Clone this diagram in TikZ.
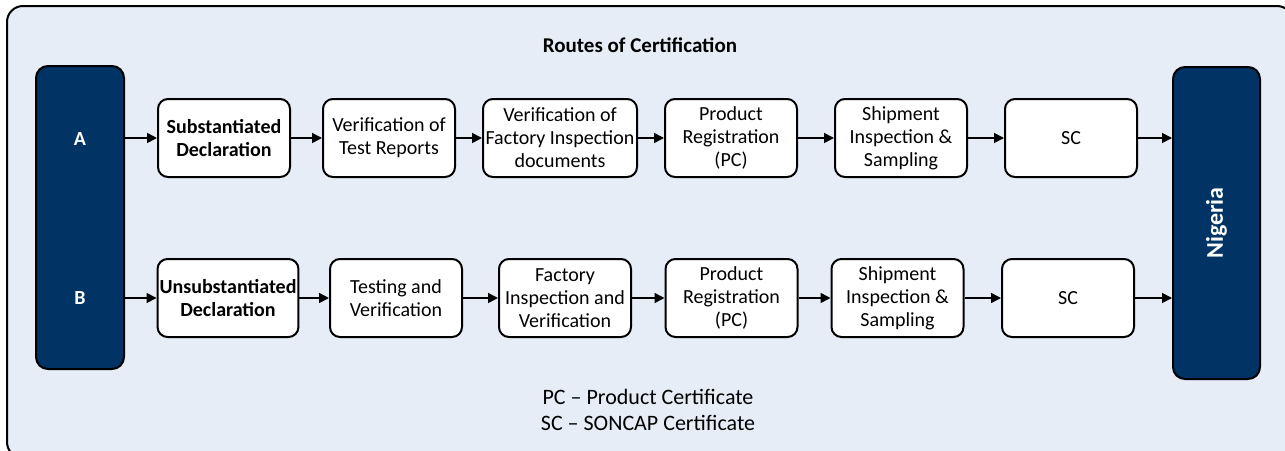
\documentclass[tikz,border=0pt]{standalone}
\usepackage{fontspec}
\setmainfont{Carlito}
\usetikzlibrary{shapes,arrows.meta,positioning}
\usepackage{xcolor}
\definecolor{paleblue}{RGB}{230,237,247}
\definecolor{navy}{RGB}{1,51,100}

\tikzset{
  stepbox/.style={draw, fill=white, rounded corners=5pt, line width=1pt,
    minimum width=66pt, minimum height=39pt, align=center, inner sep=1pt,
    font=\fontsize{10}{11.5}\selectfont},
  routebar/.style={draw, fill=navy, rounded corners=6pt, line width=1pt,
    text=white, font=\bfseries\fontsize{10}{12}\selectfont},
  flow/.style={-{Triangle[length=5pt,width=5pt]}, line width=0.8pt},
}

\begin{document}
\begin{tikzpicture}[x=0.5pt,y=-0.5pt]
        \useasboundingbox (0,0) rectangle (1285,450);
        \draw[fill=paleblue, rounded corners=8pt, line width=1pt] (7,6) rectangle (1293,458);
        \node[font=\bfseries\fontsize{10.5}{12}\selectfont] (title) at (640,45) {Routes of Certification};

        % side bars
        \node[routebar, minimum width=44pt, minimum height=151.5pt] (routes) at (80,217.5) {};
        \node[text=white, font=\bfseries\fontsize{10}{12}\selectfont] (labA) at (80,139) {A};
        \node[text=white, font=\bfseries\fontsize{10}{12}\selectfont] (labB) at (80,298) {B};
        \node[routebar, minimum width=43.5pt, minimum height=156pt, font=\bfseries\fontsize{12}{14}\selectfont] (nigeria) at (1216.5,223) {\rotatebox{90}{Nigeria}};

        % route A
        \node[stepbox] (sa1) at (224,138) {\textbf{Substantiated}\\\textbf{Declaration}};
        \node[stepbox] (sa2) at (389,138) {Verification of\\Test Reports};
        \node[stepbox, minimum width=77pt] (sa3) at (560,138) {Verification of\\Factory Inspection\\documents};
        \node[stepbox] (sa4) at (731,138) {Product\\Registration\\(PC)};
        \node[stepbox] (sa5) at (901,138) {Shipment\\Inspection \&\\Sampling};
        \node[stepbox] (sa6) at (1071,138) {SC};

        % route B
        \node[stepbox, minimum width=70pt] (sb1) at (228,298) {\textbf{Unsubstantiated}\\\textbf{Declaration}};
        \node[stepbox] (sb2) at (396,298) {Testing and\\Verification};
        \node[stepbox] (sb3) at (565,298) {Factory\\Inspection and\\Verification};
        \node[stepbox] (sb4) at (731.5,298) {Product\\Registration\\(PC)};
        \node[stepbox] (sb5) at (897.5,298) {Shipment\\Inspection \&\\Sampling};
        \node[stepbox] (sb6) at (1068,298) {SC};

        \draw[flow] (routes.east |- sa1) -- (sa1);
        \draw[flow] (routes.east |- sb1) -- (sb1);
        \foreach \r in {a,b} {
            \foreach \i/\j in {1/2,2/3,3/4,4/5,5/6}
                \draw[flow] (s\r\i) -- (s\r\j);
            \draw[flow] (s\r6) -- (s\r6 -| nigeria.west);
        }

        \node[align=center, font=\fontsize{11}{13}\selectfont] (legend) at (648,410) {PC – Product Certificate\\SC – SONCAP Certificate};
\end{tikzpicture}
\end{document}
